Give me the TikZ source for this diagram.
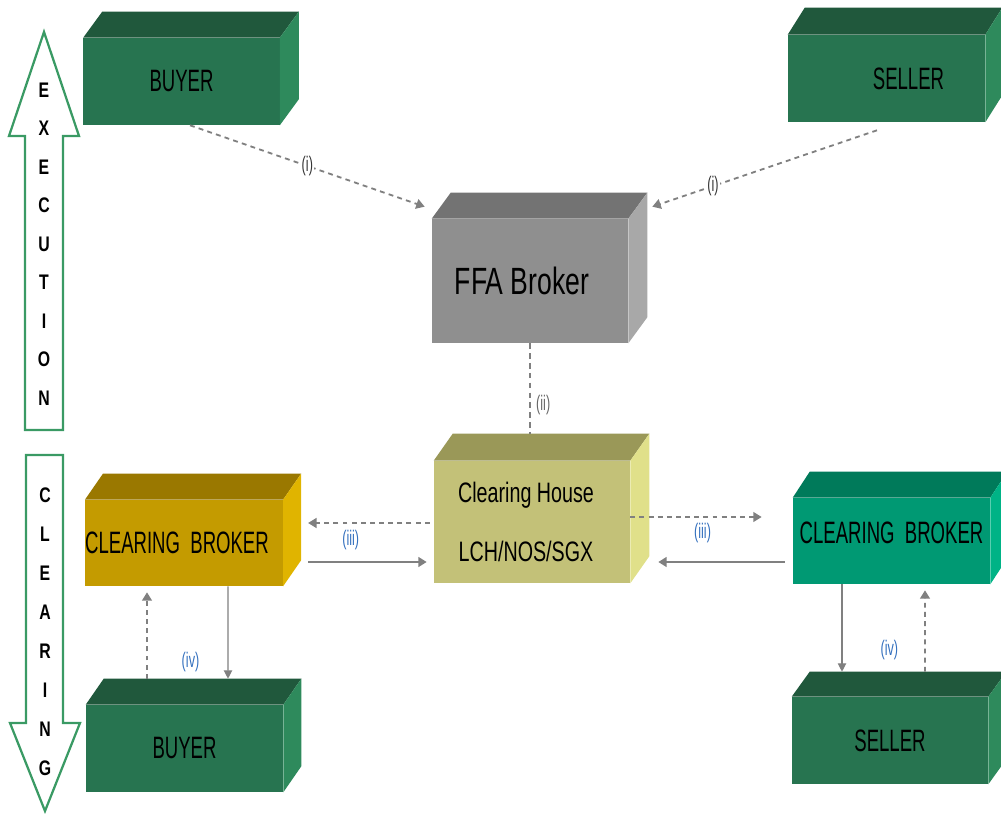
\documentclass[tikz,border=0pt]{standalone}
\usepackage{fontspec}
\setmainfont{Liberation Sans}
\newfontfamily\narrowfont[FakeStretch=0.6]{Liberation Sans}
\newfontfamily\brokerfont[FakeStretch=0.7]{Liberation Sans}
\newfontfamily\letterfont[FakeStretch=0.75]{Liberation Sans Bold}
\usetikzlibrary{arrows.meta}

% box colours
\definecolor{grFront}{RGB}{39,116,80}
\definecolor{grTop}{RGB}{32,88,60}
\definecolor{grSide}{RGB}{46,138,92}
\definecolor{gyFront}{RGB}{143,143,143}
\definecolor{gyTop}{RGB}{115,115,115}
\definecolor{gySide}{RGB}{168,168,168}
\definecolor{olFront}{RGB}{195,193,120}
\definecolor{olTop}{RGB}{154,152,88}
\definecolor{olSide}{RGB}{224,224,138}
\definecolor{goFront}{RGB}{196,155,0}
\definecolor{goTop}{RGB}{154,120,0}
\definecolor{goSide}{RGB}{224,180,0}
\definecolor{tlFront}{RGB}{0,153,115}
\definecolor{tlTop}{RGB}{0,122,90}
\definecolor{tlSide}{RGB}{0,179,134}
\definecolor{arrowgray}{RGB}{128,128,128}
\definecolor{bigarrow}{RGB}{58,154,100}
\definecolor{labblue}{RGB}{52,112,190}

\tikzset{
  box/.style={inner sep=0pt, minimum width=4.9cm, minimum height=2.175cm,
    font=\narrowfont\fontsize{22}{26}\selectfont},
  dasharrow/.style={draw=arrowgray, line width=1.3pt, dash pattern=on 3.5pt off 3pt,
    -{Triangle[width=7pt,length=6pt]}},
  solidarrow/.style={draw=arrowgray, line width=1.6pt, -{Triangle[width=7pt,length=6pt]}},
  thinarrow/.style={draw=arrowgray, line width=0.8pt, -{Triangle[width=6pt,length=6pt]}},
  steplabel/.style={font=\narrowfont\fontsize{15}{17}\selectfont, text=labblue, inner sep=1pt},
  bigletter/.style={font=\letterfont\fontsize{15}{18}\selectfont},
}

\begin{document}
\begin{tikzpicture}[x=0.025cm,y=-0.025cm]
\useasboundingbox (0,0) rectangle (1001,814);

% Execution / clearing arrows on the left
\draw[bigarrow, line width=1.6pt, line join=miter]
  (44,32) -- (79,136) -- (63,136) -- (63,430) -- (25,430) -- (25,136) -- (9,136) -- cycle;
\draw[bigarrow, line width=1.6pt, line join=miter]
  (26,455) -- (63,455) -- (63,723) -- (80,723) -- (45,811) -- (10,723) -- (26,723) -- cycle;
\foreach \c [count=\i from 0] in {E,X,E,C,U,T,I,O,N}
  \node[bigletter] (ex\i) at (44,90+38.5*\i) {\c};
\foreach \c [count=\i from 0] in {C,L,E,A,R,I,N,G}
  \node[bigletter] (cl\i) at (45,495+39*\i) {\c};

% Execution row
\node[box, fill=grFront] (buyTop) at (181.5,81.5) {BUYER};
\node[box, fill=grFront, minimum width=4.925cm] (sellTop) at (886.5,78.5) {\hspace*{1.1cm}SELLER};
\node[box, fill=gyFront, minimum height=3.1cm, font=\brokerfont\fontsize{27}{32}\selectfont]
  (ffa) at (530,281) {FFA Broker\hspace*{0.4cm}};

% Clearing row
\node[box, fill=olFront, minimum height=3.05cm, align=center,
  font=\brokerfont\fontsize{20}{42}\selectfont] (ch) at (532,522)
  {Clearing House\hspace*{0.3cm}\\LCH/NOS/SGX\hspace*{0.3cm}};
\node[box, fill=goFront, minimum height=2.15cm] (cbL) at (184,543) {CLEARING\ \ BROKER\hspace*{0.35cm}};
\node[box, fill=tlFront, minimum width=4.925cm, minimum height=2.15cm] (cbR) at (891.5,541)
  {\raisebox{0.4cm}{CLEARING\ \ BROKER}};
\node[box, fill=grFront, minimum width=4.925cm] (buyBot) at (184.5,748.5) {BUYER};
\node[box, fill=grFront] (sellBot) at (890,740.5) {SELLER};

% top and side faces
\foreach \n/\tc/\sc/\dx/\dy in {buyTop/grTop/grSide/19/26, sellTop/grTop/grSide/17/27,
    ffa/gyTop/gySide/19/26, ch/olTop/olSide/19/27, cbL/goTop/goSide/18/26,
    cbR/tlTop/tlSide/17/26, buyBot/grTop/grSide/18/26, sellBot/grTop/grSide/18/25}
{
  \fill[\tc] (\n.north west) -- ++(\dx,-\dy) -- ([shift={(\dx,-\dy)}]\n.north east)
    -- (\n.north east) -- cycle;
  \fill[\sc] (\n.north east) -- ++(\dx,-\dy) -- ([shift={(\dx,-\dy)}]\n.south east)
    -- (\n.south east) -- cycle;
}

% (i) orders to the broker
\draw[dasharrow] ([shift={(8.5,0)}]buyTop.south) -- ([shift={(-7,-12)}]ffa.north west)
  node[steplabel, text=black!80, fill=white, pos=0.5] (l1) {(i)};
\draw[dasharrow] ([shift={(-9.5,8)}]sellTop.south) -- ([shift={(24,-12)}]ffa.north east)
  node[steplabel, text=black!80, fill=white, pos=0.73] (l2) {(i)};

% (ii) broker to clearing house
\coordinate (chback) at ([shift={(-2,-27)}]ch.north);
\draw[arrowgray, line width=0.8pt, dash pattern=on 4pt off 3pt] (ffa.south) -- (ffa.south |- chback)
  node[steplabel, text=black!60, pos=0.68, right=3pt] (l3) {(ii)};

% (iii) clearing house and clearing brokers
\coordinate (cbLe) at ([shift={(25,0)}]cbL.east);
\coordinate (cbRw) at ([shift={(-31,0)}]cbR.west);
\coordinate (chw) at ([shift={(-4,1)}]ch.west);
\coordinate (che) at ([shift={(0,-5)}]ch.east);
\draw[dasharrow] (chw) -- (cbLe |- chw);
\draw[solidarrow] ([shift={(0,19)}]cbLe) -- ([shift={(-7,40)}]ch.west)
  node[steplabel, pos=0.36, above=7pt] (l4) {(iii)};
\draw[dasharrow] (che) -- (cbRw |- che)
  node[steplabel, pos=0.55, below=3pt] (l5) {(iii)};
\draw[solidarrow] ([shift={(-8,21)}]cbR.west) -- ([shift={(28,40)}]ch.east);

% (iv) clearing brokers and clients
\draw[dasharrow] ([shift={(-37.5,-26)}]buyBot.north) -- ([shift={(-37,6)}]cbL.south);
\draw[thinarrow] ([shift={(44,0)}]cbL.south) -- ([shift={(43.5,-26)}]buyBot.north)
  node[steplabel, pos=0.82, left=19pt] (l6) {(iv)};
\draw[thinarrow] ([shift={(-49.5,0)}]cbR.south) -- ([shift={(-48,-25)}]sellBot.north)
  node[steplabel, pos=0.75, right=26pt] (l7) {(iv)};
\draw[dasharrow] ([shift={(35,-25)}]sellBot.north) -- ([shift={(33.5,6)}]cbR.south);
\end{tikzpicture}
\end{document}
